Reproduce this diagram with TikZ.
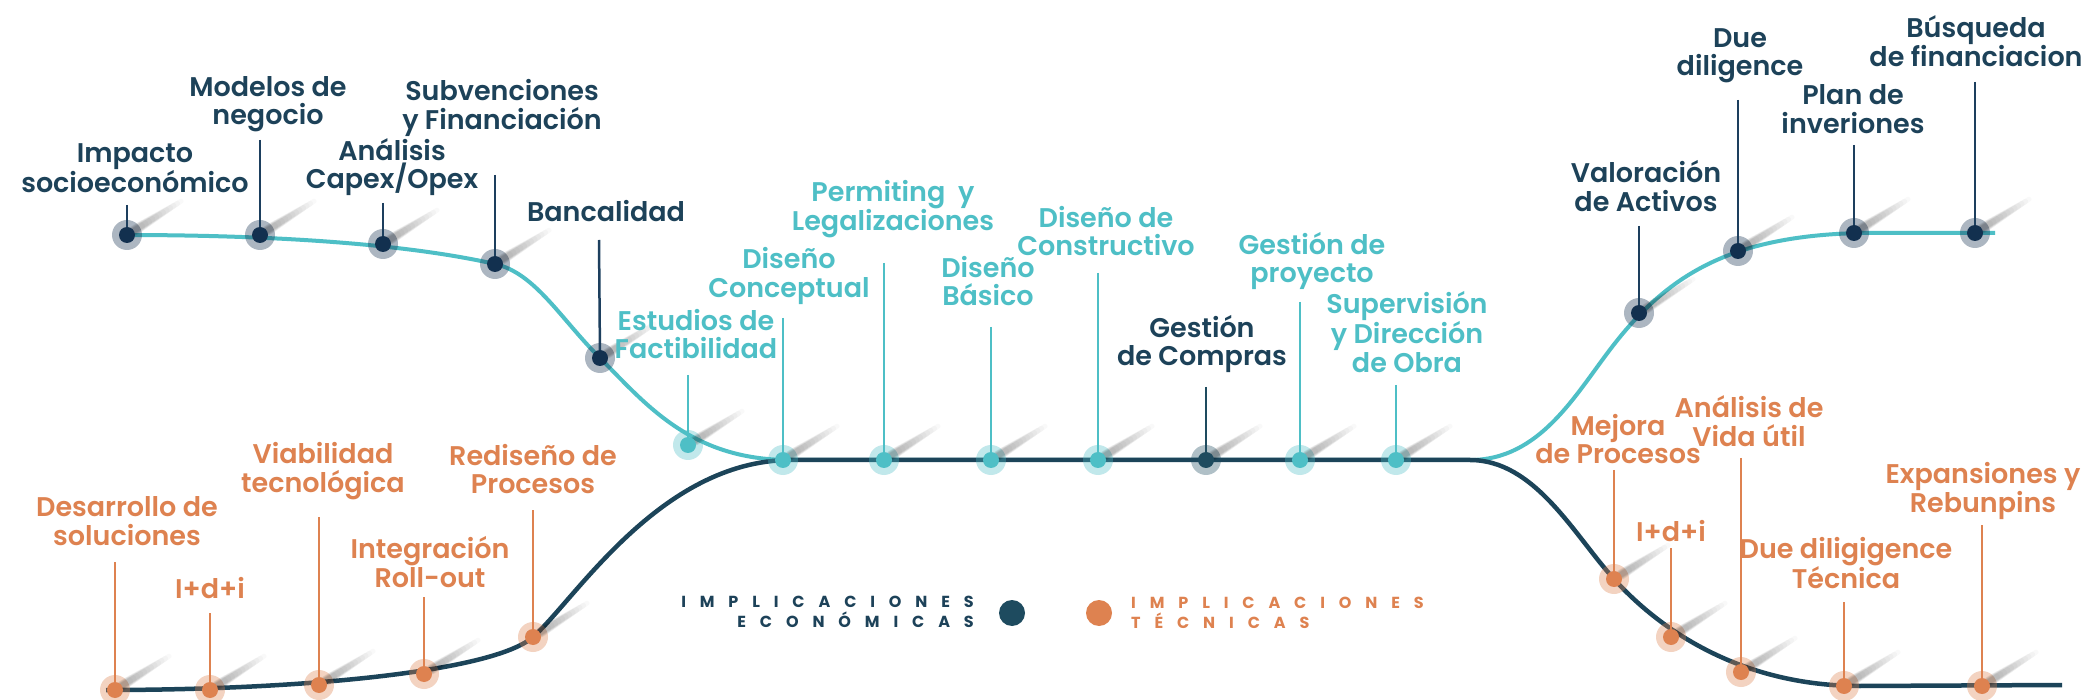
\documentclass[tikz,border=0pt]{standalone}
\usepackage{fontspec}
\IfFontExistsTF{Poppins SemiBold}{\newfontfamily\lblfnt{Poppins SemiBold}}{\newfontfamily\lblfnt{Poppins}[UprightFont={* Bold}]}
\IfFontExistsTF{Poppins Bold}{\newfontfamily\lgdfnt{Poppins Bold}}{\newfontfamily\lgdfnt{Poppins}[UprightFont={* Bold}]}
\definecolor{cteal}{HTML}{4EBFC6}
\definecolor{cline}{HTML}{1C4459}
\definecolor{cdot}{HTML}{12304F}
\definecolor{cgco}{HTML}{1E4B5F}
\definecolor{ctext}{HTML}{1D4259}
\definecolor{cstem}{HTML}{1D3F5E}
\definecolor{corange}{HTML}{DE8250}
\newdimen\lsp \lsp=13.9pt
\def\spaceout#1{\spaceouti#1\relax}
\def\spaceouti#1{#1\spaceoutii}
\def\spaceoutii#1{\ifx#1\relax\else\kern\lsp#1\expandafter\spaceoutii\fi}
\tikzset{
  lbl/.style={font=\lblfnt\fontsize{27}{28.5}\selectfont, align=center, inner sep=0pt},
  lgd/.style={font=\lgdfnt\fontsize{16}{20}\selectfont, inner sep=0pt},
  dotcore/.style={circle, inner sep=0pt, minimum size=16pt},
  stemline/.style={line width=2.5pt},
  tealline/.style={line width=4pt, color=cteal},
  navyline/.style={line width=4.5pt, color=cline},
  streak/.style={line cap=round, color=black, opacity=0.022},
}
% name, x, y, core colour, halo colour
\newcommand\pdot[5]{%
  \fill[#5, opacity=0.35] (#2,#3) circle (15);
  \foreach \i in {1,...,12}{%
    \pgfmathsetmacro\len{3+4.4*\i}%
    \pgfmathsetmacro\wid{11-0.5*\i}%
    \draw[streak, line width=\wid pt] (#2,#3) ++(-32:8) -- ++(-32:\len);
  }
  \node[dotcore, fill=#4] (#1) at (#2,#3) {};
}
% name, x, y, colour, text
\newcommand\plabel[5]{\node[lbl, text=#4] (#1) at (#2,#3) {#5};}
\begin{document}
\begin{tikzpicture}[x=1pt,y=-1pt]
\useasboundingbox (0,0) rectangle (2081,700);
\fill[white] (0,0) rectangle (2081,700);
% curves
\draw[tealline] (124,235) .. controls (300,235) and (420,247) .. (495,264)
  .. controls (535,273) and (560,318) .. (600,358)
  .. controls (645,403) and (690,460) .. (790,460) -- (1470,460)
  .. controls (1540,460) and (1575,395) .. (1612,347)
  .. controls (1667.5,275) and (1730,236) .. (1860,233) -- (1995,233);
\draw[navyline] (106,690) .. controls (300,690) and (493,672) .. (533,637)
  .. controls (575,600) and (660,461) .. (790,460) -- (1470,460)
  .. controls (1535,460) and (1574,535) .. (1614,579)
  .. controls (1659,629) and (1740,686) .. (1860,686) -- (2062,685);
% dots
\pdot{imp}{127}{235}{cdot}{cdot}
\pdot{mod}{260}{235}{cdot}{cdot}
\pdot{ana}{383}{244}{cdot}{cdot}
\pdot{sub}{495}{264}{cdot}{cdot}
\pdot{ban}{600}{358}{cdot}{cdot}
\pdot{est}{688}{445}{cteal}{cteal}
\pdot{dco}{783}{460}{cteal}{cteal}
\pdot{per}{884}{460}{cteal}{cteal}
\pdot{dba}{991}{460}{cteal}{cteal}
\pdot{dcn}{1098}{460}{cteal}{cteal}
\pdot{gco}{1206}{460}{cgco}{cgco}
\pdot{gpr}{1300}{460}{cteal}{cteal}
\pdot{sup}{1396}{460}{cteal}{cteal}
\pdot{val}{1639}{313}{cdot}{cdot}
\pdot{due}{1738}{251}{cdot}{cdot}
\pdot{pla}{1854}{233}{cdot}{cdot}
\pdot{bus}{1975}{233}{cdot}{cdot}
\pdot{des}{115}{690}{corange}{corange}
\pdot{idi}{210}{690}{corange}{corange}
\pdot{via}{319}{685}{corange}{corange}
\pdot{int}{424}{674}{corange}{corange}
\pdot{red}{533}{637}{corange}{corange}
\pdot{mej}{1614}{579}{corange}{corange}
\pdot{idb}{1671}{637}{corange}{corange}
\pdot{vid}{1741}{672}{corange}{corange}
\pdot{ddt}{1844}{686}{corange}{corange}
\pdot{exp}{1982}{686}{corange}{corange}
% stem tops
\coordinate (imp-t) at (127,205);
\coordinate (mod-t) at (260,140);
\coordinate (ana-t) at (383,203);
\coordinate (sub-t) at (495,175);
\coordinate (ban-t) at (599,240);
\coordinate (est-t) at (688,375);
\coordinate (dco-t) at (783,318);
\coordinate (per-t) at (884,263);
\coordinate (dba-t) at (991,327);
\coordinate (dcn-t) at (1098,273);
\coordinate (gco-t) at (1206,387);
\coordinate (gpr-t) at (1300,302);
\coordinate (sup-t) at (1396,385);
\coordinate (val-t) at (1639,226);
\coordinate (due-t) at (1738,100);
\coordinate (pla-t) at (1854,145);
\coordinate (bus-t) at (1975,82);
\coordinate (des-t) at (115,562);
\coordinate (idi-t) at (210,613);
\coordinate (via-t) at (319,517);
\coordinate (int-t) at (424,597);
\coordinate (red-t) at (533,510);
\coordinate (mej-t) at (1614,470);
\coordinate (idb-t) at (1671,548);
\coordinate (vid-t) at (1741,458);
\coordinate (ddt-t) at (1844,602);
\coordinate (exp-t) at (1982,525);
% stems
\foreach \n in {imp,mod,ana,sub,ban,val,due,pla,bus}
  \draw[stemline, cstem] (\n-t) -- (\n);
\draw[stemline, cgco] (gco-t) -- (gco);
\foreach \n in {est,dco,per,dba,dcn,gpr,sup}
  \draw[stemline, cteal] (\n-t) -- (\n);
\foreach \n in {des,idi,via,int,red,mej,idb,vid,ddt,exp}
  \draw[stemline, corange] (\n-t) -- (\n);
% labels
\plabel{imp-l}{135}{168}{ctext}{Impacto\\socioeconómico}
\plabel{mod-l}{268}{104}{ctext}{Modelos de\\negocio}
\plabel{ana-l}{392}{167}{ctext}{Análisis\\Capex/Opex}
\plabel{sub-l}{502}{108}{ctext}{Subvenciones\\y Financiación}
\plabel{ban-l}{606}{211}{ctext}{Bancalidad}
\plabel{est-l}{696}{334}{cteal}{Estudios de\\Factibilidad}
\plabel{dco-l}{789}{276}{cteal}{Diseño\\Conceptual}
\plabel{per-l}{893}{209}{cteal}{Permiting~~y\\Legalizaciones}
\plabel{dba-l}{988}{281}{cteal}{Diseño\\Básico}
\plabel{dcn-l}{1106}{231}{cteal}{Diseño de\\Constructivo}
\plabel{gco-l}{1202}{344}{ctext}{Gestión\\de Compras}
\plabel{gpr-l}{1312}{261}{cteal}{Gestión de\\proyecto}
\plabel{sup-l}{1407}{332}{cteal}{Supervisión\\y Dirección\\de Obra}
\plabel{val-l}{1646}{186}{ctext}{Valoración\\de Activos}
\plabel{due-l}{1740}{56}{ctext}{Due\\diligence}
\plabel{pla-l}{1853}{109}{ctext}{Plan de\\inveriones}
\plabel{bus-l}{1976}{41}{ctext}{Búsqueda\\de financiacion}
\plabel{des-l}{127}{521}{corange}{Desarrollo de\\soluciones}
\plabel{idi-l}{210}{588}{corange}{I+d+i}
\plabel{via-l}{323}{471}{corange}{Viabilidad\\tecnológica}
\plabel{int-l}{430}{562}{corange}{Integración\\Roll-out}
\plabel{red-l}{533}{469}{corange}{Rediseño de\\Procesos}
\plabel{mej-l}{1618}{439}{corange}{Mejora\\de Procesos}
\plabel{idb-l}{1671}{531}{corange}{I+d+i}
\plabel{vid-l}{1749}{421}{corange}{Análisis de\\Vida útil}
\plabel{ddt-l}{1846}{563}{corange}{Due diligigence\\Técnica}
\plabel{exp-l}{1983}{491}{corange}{Expansiones y\\Rebunpins}
% legend
\node[lgd, text=ctext, anchor=east, align=right] (leg-eco) at (974,612) {\spaceout{IMPLICACIONES}\\\spaceout{ECONÓMICAS}};
\node[dotcore, fill=cgco, minimum size=26pt] (leg-eco-d) at (1012,613) {};
\node[dotcore, fill=corange, minimum size=26pt] (leg-tec-d) at (1099,613) {};
\node[lgd, text=corange, anchor=west, align=left] (leg-tec) at (1131,613) {\spaceout{IMPLICACIONES}\\\spaceout{TÉCNICAS}};
\end{tikzpicture}
\end{document}
